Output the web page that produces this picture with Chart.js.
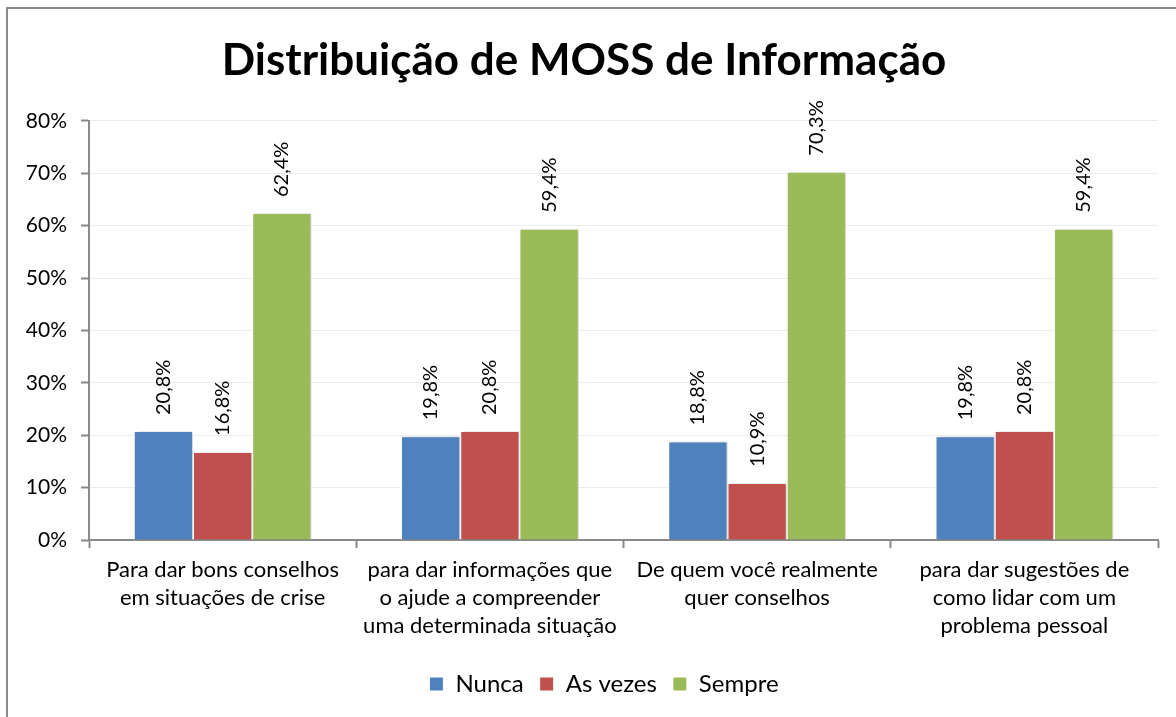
<!DOCTYPE html>
<html>
<head>
<meta charset="utf-8">
<script src="https://cdn.jsdelivr.net/npm/chart.js@4.4.0/dist/chart.umd.min.js"></script>
<style>
  html, body { margin: 0; padding: 0; background: #fff; }
  #wrap { position: relative; width: 1176px; height: 717px; overflow: hidden; }
  #frame { position: absolute; left: 6px; top: 7px; width: 1200px; height: 800px;
           border-left: 2px solid #8a8a8a; border-top: 2px solid #8a8a8a; pointer-events: none; }
  canvas { position: absolute; left: 0; top: 0; }
</style>
</head>
<body>
<div id="wrap">
  <canvas id="chart" width="1176" height="717"></canvas>
  <div id="frame"></div>
</div>
<script>
// --- DATA ---
const categories = [
    ["Para dar bons conselhos", "em situações de crise"],
    ["para dar informações que", "o ajude a compreender", "uma determinada situação"],
    ["De quem você realmente", "quer conselhos"],
    ["para dar sugestões de", "como lidar com um", "problema pessoal"]
];
const nunca = [20.8, 19.8, 18.8, 19.8];
const asVezes = [16.8, 20.8, 10.9, 20.8];
const sempre = [62.4, 59.4, 70.3, 59.4];
const yTicks = [0, 10, 20, 30, 40, 50, 60, 70, 80];

const fmt = v => v.toFixed(1).replace('.', ',') + '%';

// rotated value labels above each bar
const barLabels = {
    id: 'barLabels',
    afterDatasetsDraw(chart) {
        const ctx = chart.ctx;
        ctx.save();
        ctx.font = '20px Lato';
        ctx.fillStyle = '#000';
        ctx.textAlign = 'left';
        ctx.textBaseline = 'middle';
        chart.data.datasets.forEach((ds, i) => {
            chart.getDatasetMeta(i).data.forEach((bar, j) => {
                ctx.save();
                ctx.translate(bar.x, bar.y - 16);
                ctx.rotate(-Math.PI / 2);
                ctx.fillText(fmt(ds.data[j]), 0, 0);
                ctx.restore();
            });
        });
        ctx.restore();
    }
};

// light shadow behind bars
const barShadow = {
    id: 'barShadow',
    beforeDatasetsDraw(chart) {
        const ctx = chart.ctx;
        ctx.save();
        ctx.shadowColor = 'rgba(0,0,0,0.22)';
        ctx.shadowBlur = 3;
        ctx.shadowOffsetX = 2;
        ctx.shadowOffsetY = 0;
    },
    afterDatasetsDraw(chart) { chart.ctx.restore(); }
};

// legend sits a bit right of the canvas centre in the original
const legendShift = {
    id: 'legendShift',
    afterLayout(chart) {
        chart.legend.left += 20;
        chart.legend.right += 20;
    }
};

const bar = (label, data, color) => ({
    label, data, backgroundColor: color, borderColor: '#ffffff', borderWidth: 1,
    barPercentage: 1, categoryPercentage: 0.665
});

new Chart(document.getElementById('chart'), {
    type: 'bar',
    data: {
        labels: categories,
        datasets: [
            bar('Nunca', nunca, '#4F81BD'),
            bar('As vezes', asVezes, '#C0504D'),
            bar('Sempre', sempre, '#9BBB59')
        ]
    },
    options: {
        responsive: false,
        animation: false,
        layout: { padding: { left: 10, right: 18, top: 0, bottom: 11 } },
        plugins: {
            title: {
                display: true,
                text: 'Distribuição de MOSS de Informação',
                color: '#000',
                font: { family: 'Lato', size: 44, weight: 'bold' },
                padding: { top: 34, bottom: 34 }
            },
            legend: {
                position: 'bottom',
                labels: {
                    color: '#000', boxWidth: 14, boxHeight: 14, padding: 16,
                    font: { family: 'Lato', size: 24 }
                }
            },
            tooltip: { enabled: false }
        },
        scales: {
            x: {
                afterFit: s => { s.height = 116; },
                grid: { drawOnChartArea: false, tickLength: 8, tickColor: '#8a8a8a', tickWidth: 2 },
                border: { color: '#8a8a8a', width: 2 },
                ticks: { color: '#000', padding: 8, maxRotation: 0, autoSkip: false,
                         font: { family: 'Lato', size: 22, lineHeight: 1.27 } }
            },
            y: {
                min: 0, max: 80,
                afterFit: s => { s.width = 79; },
                afterBuildTicks: s => { s.ticks = yTicks.map(v => ({ value: v })); },
                grid: { color: '#ececec', tickLength: 8, tickColor: '#8a8a8a', tickWidth: 2 },
                border: { color: '#8a8a8a', width: 2 },
                ticks: { color: '#000', padding: 14, callback: v => v + '%',
                         font: { family: 'Lato', size: 21 } }
            }
        }
    },
    plugins: [barShadow, barLabels, legendShift]
});
</script>
</body>
</html>
